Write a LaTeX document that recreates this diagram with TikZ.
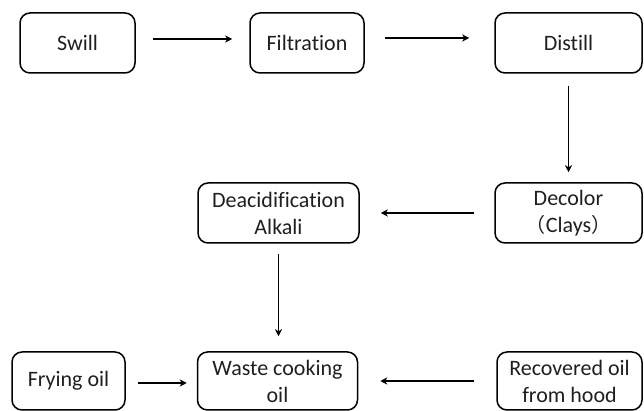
\documentclass[tikz,border=0pt]{standalone}
\usepackage{fontspec}
\setmainfont{Carlito}[Ligatures={NoCommon}]
\newfontfamily\cjkfont{Noto Sans CJK SC}
\usetikzlibrary{arrows.meta}
\begin{document}
\begin{tikzpicture}[x=1pt,y=1pt,
  box/.style={draw=black, line width=1.5pt, rounded corners=10pt, inner sep=0pt,
    align=center, font=\fontsize{22}{27}\selectfont, text=black!88},
  flow/.style={draw=black, line width=1.5pt, -{Stealth[length=7pt,width=7pt,inset=2pt]}}]
\useasboundingbox (0,0) rectangle (644,411);
% y' = 411 - y
\node[box, minimum width=115pt, minimum height=60pt] (swill) at (77.5,368) {Swill};
\node[box, minimum width=114pt, minimum height=60pt] (filt) at (307,368) {Filtration};
\node[box, minimum width=147pt, minimum height=60pt] (dist) at (568.5,368) {Distill};
\node[box, minimum width=147pt, minimum height=60pt] (decol) at (568.5,198) {Decolor\\{\cjkfont\fontsize{20}{27}\selectfont （}Clays{\cjkfont\fontsize{20}{27}\selectfont ）}};
\node[box, minimum width=161pt, minimum height=60pt] (deac) at (278.5,198) {Deacidification\\Alkali};
\node[box, minimum width=113pt, minimum height=58pt] (fry) at (68.5,30) {Frying oil};
\node[box, minimum width=160pt, minimum height=58pt] (waste) at (277.5,30) {Waste cooking\\oil};
\node[box, minimum width=145pt, minimum height=58pt] (recov) at (569.5,30) {Recovered oil\\from hood};

\draw[flow, shorten <=17pt, shorten >=17pt] ([yshift=4pt]swill.east) -- ([yshift=4pt]filt.west);
\draw[flow, shorten <=20pt, shorten >=25pt] ([yshift=5pt]filt.east) -- ([yshift=5pt]dist.west);
\draw[flow, shorten <=12pt, shorten >=10pt] (dist.south) -- (dist.south |- decol.north);
\draw[flow, shorten <=20pt, shorten >=21pt] (decol.west) -- (decol.west -| deac.east);
\draw[flow, shorten <=10pt, shorten >=15pt] (deac.south) -- (deac.south |- waste.north);
\draw[flow, shorten <=12pt, shorten >=10pt] ([yshift=-2pt]fry.east) -- ([yshift=-2pt]waste.west);
\draw[flow, shorten <=22pt, shorten >=22pt] (recov.west) -- (recov.west -| waste.east);
\end{tikzpicture}
\end{document}
